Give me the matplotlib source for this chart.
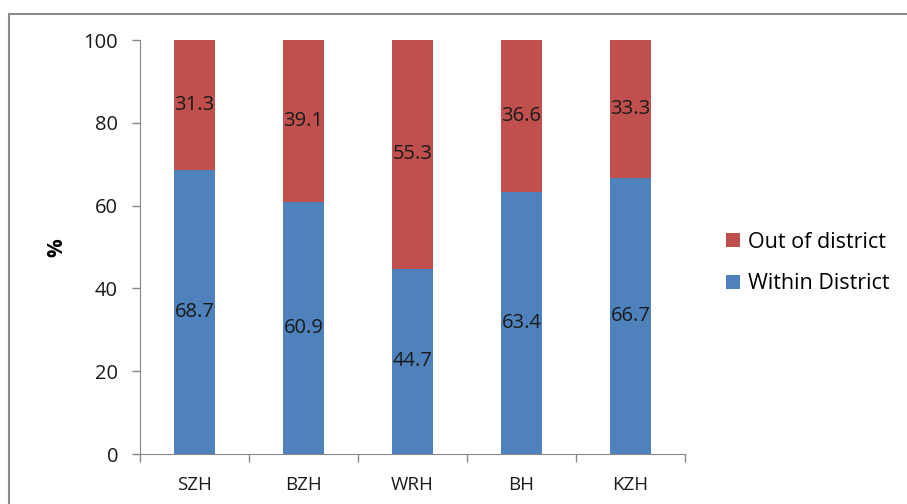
import matplotlib
matplotlib.use("Agg")
import matplotlib.pyplot as plt
from matplotlib.lines import Line2D
import numpy as np

# hospital districts and share of patients (%)
hospitals = ["SZH", "BZH", "WRH", "BH", "KZH"]
within_district = [68.7, 60.9, 44.7, 63.4, 66.7]
out_of_district = [31.3, 39.1, 55.3, 36.6, 33.3]

BLUE = "#4F81BD"
RED = "#C0504D"
AXIS_GREY = "#868686"
FS = 14.5

plt.rcParams["font.family"] = ["Open Sans", "DejaVu Sans"]

fig = plt.figure(figsize=(9.07, 5.04), dpi=100)
ax = fig.add_axes([140 / 907, 50 / 504, 545 / 907, 414 / 504])

x = np.arange(len(hospitals))
width = 0.385
b1 = ax.bar(x, within_district, width, color=BLUE, label="Within District")
b2 = ax.bar(x, out_of_district, width, bottom=within_district, color=RED,
            label="Out of district")

for bars, vals in ((b1, within_district), (b2, out_of_district)):
    for rect, v in zip(bars, vals):
        ax.text(rect.get_x() + rect.get_width() / 2,
                rect.get_y() + rect.get_height() / 2,
                f"{v:.1f}", ha="center", va="center", fontsize=FS,
                color="#1a1a1a")

ax.set_xlim(-0.5, len(hospitals) - 0.5)
ax.set_ylim(0, 100)
ax.set_yticks(np.arange(0, 101, 20))
ax.set_xticks(x)
ax.set_xticklabels(hospitals)
# category boundaries get the tick marks, labels stay centred
ax.set_xticks(np.arange(-0.5, len(hospitals), 1), minor=True)
ax.tick_params(axis="x", which="major", length=0, pad=16, labelsize=FS - 1,
               labelcolor="#1a1a1a")
ax.tick_params(axis="x", which="minor", length=5.8, width=1, color=AXIS_GREY)
ax.tick_params(axis="y", length=5.8, width=1, color=AXIS_GREY, labelsize=FS,
               pad=10, labelcolor="#1a1a1a")

for side in ("top", "right"):
    ax.spines[side].set_visible(False)
for side in ("left", "bottom"):
    ax.spines[side].set_color(AXIS_GREY)

ax.set_ylabel("%", fontsize=15, fontweight="bold", rotation=90)
ax.yaxis.set_label_coords((67 - 140) / 545, (454 - 248) / 414)

handles, labels = ax.get_legend_handles_labels()
fig.legend(handles[::-1], labels[::-1], loc="center left",
           bbox_to_anchor=(726 / 907, 1 - 263 / 504), frameon=False,
           fontsize=15.5, handlelength=0.64, handleheight=0.64,
           handletextpad=0.38, labelspacing=0.95, borderpad=0,
           borderaxespad=0)

# chart area outline (left and top edges)
fig.add_artist(Line2D([9 / 907, 9 / 907], [0, 1 - 14 / 504],
                      transform=fig.transFigure, color="#8c8c8c", lw=1.5))
fig.add_artist(Line2D([9 / 907, 1], [1 - 14 / 504, 1 - 14 / 504],
                      transform=fig.transFigure, color="#8c8c8c", lw=1.5))

fig.savefig("out.png", dpi=100, facecolor="white")
